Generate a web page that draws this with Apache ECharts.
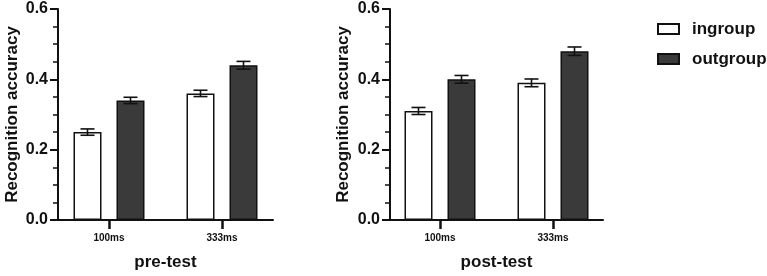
<!DOCTYPE html>
<html>
<head>
<meta charset="utf-8">
<script src="https://cdn.jsdelivr.net/npm/echarts@6/dist/echarts.min.js"></script>
<style>
  html, body { margin: 0; padding: 0; background: #fff; }
  #chart { width: 767px; height: 276px; }
</style>
</head>
<body>
<div id="chart"></div>
<script>
var categories = ['100ms', '333ms'];
var catPos = [1, 2];
var panelNames = ['pre-test', 'post-test'];
var preIngroup = [0.25, 0.36];
var preOutgroup = [0.34, 0.44];
var preIngroupErr = [0.009, 0.009];
var preOutgroupErr = [0.009, 0.011];
var postIngroup = [0.31, 0.39];
var postOutgroup = [0.40, 0.48];
var postIngroupErr = [0.010, 0.011];
var postOutgroupErr = [0.011, 0.012];

var FONT = '"Liberation Sans", Arial, sans-serif';
var BAR_W = 28;
var BAR_GAP = 15;
var HALF = (BAR_W + BAR_GAP) / 2;

function pairs(vals) {
    var out = [];
    for (var i = 0; i < vals.length; i++) out.push([catPos[i], vals[i]]);
    return out;
}
function errData(vals, errs, side) {
    var out = [];
    for (var i = 0; i < vals.length; i++) out.push([catPos[i], vals[i], errs[i], side]);
    return out;
}
// error bar = vertical stem + two caps, shifted onto its bar
function renderErr(params, api) {
    var x = api.value(0), m = api.value(1), e = api.value(2), s = api.value(3);
    var top = api.coord([x, m + e]);
    var bot = api.coord([x, m - e]);
    var cx = top[0] + s * HALF;
    var st = { stroke: '#111', lineWidth: 1.6 };
    return {
        type: 'group',
        children: [
            { type: 'line', shape: { x1: cx, y1: top[1], x2: cx, y2: bot[1] }, style: st },
            { type: 'line', shape: { x1: cx - 7, y1: top[1], x2: cx + 7, y2: top[1] }, style: st },
            { type: 'line', shape: { x1: cx - 7, y1: bot[1], x2: cx + 7, y2: bot[1] }, style: st }
        ]
    };
}

function xAxisFor(gridIndex, min, max) {
    return {
        gridIndex: gridIndex,
        type: 'value',
        min: min,
        max: max,
        name: panelNames[gridIndex],
        nameLocation: 'middle',
        nameGap: 34,
        nameTextStyle: { fontFamily: FONT, fontWeight: 'bold', fontSize: 17, color: '#111' },
        splitLine: { show: false },
        axisLine: { show: true, onZero: false, lineStyle: { color: '#111', width: 2 } },
        axisTick: { show: true, customValues: catPos, length: 9, lineStyle: { color: '#111', width: 2.5 } },
        axisLabel: {
            customValues: catPos,
            margin: 13,
            fontFamily: FONT, fontWeight: 'bold', fontSize: 10, color: '#111',
            formatter: function (v) { return categories[Math.round(v) - 1]; }
        }
    };
}
function yAxisFor(gridIndex, gap) {
    return {
        gridIndex: gridIndex,
        type: 'value',
        min: 0,
        max: 0.6,
        interval: 0.2,
        name: 'Recognition accuracy',
        nameLocation: 'middle',
        nameGap: gap,
        nameTextStyle: { fontFamily: FONT, fontWeight: 'bold', fontSize: 17, color: '#111' },
        splitLine: { show: false },
        axisLine: { show: true, onZero: false, lineStyle: { color: '#111', width: 2 } },
        axisTick: { show: true, length: 8, lineStyle: { color: '#111', width: 2 } },
        minorTick: { show: true, splitNumber: 4, length: 5, lineStyle: { color: '#111', width: 1.5 } },
        axisLabel: {
            margin: 10,
            fontFamily: FONT, fontWeight: 'bold', fontSize: 16, color: '#111',
            formatter: function (v) { return v.toFixed(1); }
        }
    };
}

var chart = echarts.init(document.getElementById('chart'));
var option = {
    backgroundColor: '#fff',
    animation: false,
    legend: {
        orient: 'vertical',
        left: 652,
        top: 14,
        itemWidth: 21,
        itemHeight: 10,
        itemGap: 10,
        icon: 'rect',
        data: ['ingroup', 'outgroup'],
        textStyle: { fontFamily: FONT, fontWeight: 'bold', fontSize: 17, lineHeight: 20, color: '#111', padding: [0, 0, 0, 8] }
    },
    grid: [
        { left: 58, top: 9, width: 215, height: 212 },
        { left: 390, top: 9, width: 213, height: 212 }
    ],
    xAxis: [
        xAxisFor(0, 1 - 51 / 113, 2 + 51 / 113),
        xAxisFor(1, 1 - 50 / 113, 2 + 50 / 113)
    ],
    yAxis: [yAxisFor(0, 37), yAxisFor(1, 38)],
    series: [
        { name: 'ingroup', type: 'bar', xAxisIndex: 0, yAxisIndex: 0, barWidth: BAR_W, barGap: (BAR_GAP / BAR_W * 100) + '%',
          itemStyle: { color: '#fff', borderColor: '#111', borderWidth: 1.5 }, data: pairs(preIngroup) },
        { name: 'outgroup', type: 'bar', xAxisIndex: 0, yAxisIndex: 0, barWidth: BAR_W, barGap: (BAR_GAP / BAR_W * 100) + '%',
          itemStyle: { color: '#3a3a3a', borderColor: '#111', borderWidth: 1.5 }, data: pairs(preOutgroup) },
        { name: 'ingroup', type: 'bar', xAxisIndex: 1, yAxisIndex: 1, barWidth: BAR_W, barGap: (BAR_GAP / BAR_W * 100) + '%',
          itemStyle: { color: '#fff', borderColor: '#111', borderWidth: 1.5 }, data: pairs(postIngroup) },
        { name: 'outgroup', type: 'bar', xAxisIndex: 1, yAxisIndex: 1, barWidth: BAR_W, barGap: (BAR_GAP / BAR_W * 100) + '%',
          itemStyle: { color: '#3a3a3a', borderColor: '#111', borderWidth: 1.5 }, data: pairs(postOutgroup) },
        { name: 'err-pre', type: 'custom', xAxisIndex: 0, yAxisIndex: 0, z: 5, renderItem: renderErr,
          encode: { x: 0, y: 1 }, data: errData(preIngroup, preIngroupErr, -1).concat(errData(preOutgroup, preOutgroupErr, 1)) },
        { name: 'err-post', type: 'custom', xAxisIndex: 1, yAxisIndex: 1, z: 5, renderItem: renderErr,
          encode: { x: 0, y: 1 }, data: errData(postIngroup, postIngroupErr, -1).concat(errData(postOutgroup, postOutgroupErr, 1)) }
    ]
};
chart.setOption(option);
</script>
</body>
</html>
